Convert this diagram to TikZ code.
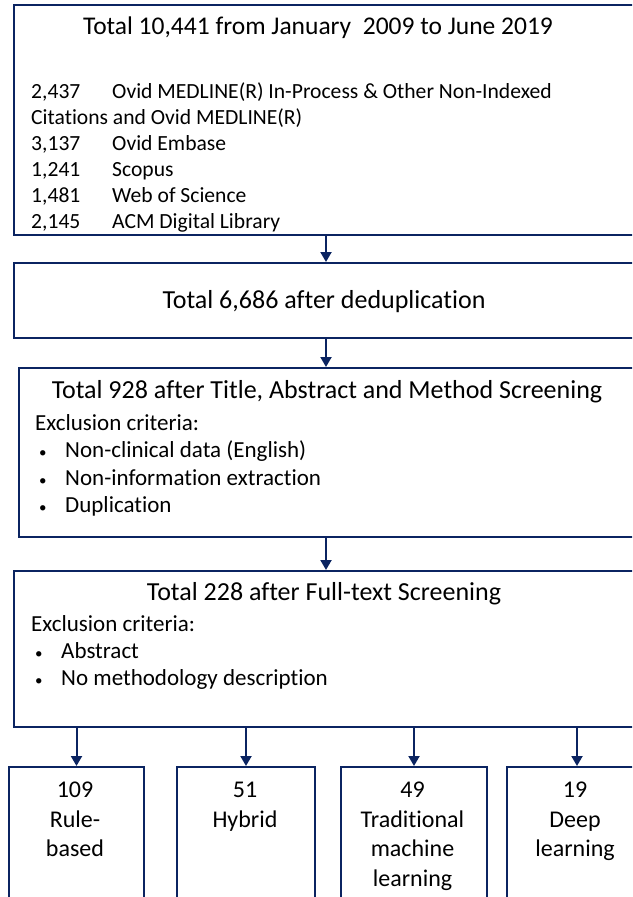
\documentclass[tikz,border=0pt]{standalone}
\usepackage{fontspec}
\setmainfont{Carlito}[Ligatures=NoCommon]
\usetikzlibrary{arrows.meta}
\definecolor{navy}{HTML}{0B2461}
\newcommand{\smallbullet}{\makebox[26pt][l]{\fontsize{15}{15}\selectfont\textbullet}}

\begin{document}
\begin{tikzpicture}[x=1pt,y=-1pt]
\useasboundingbox (0,0) rectangle (632,897);
\clip (0,0) rectangle (632,897);

\begin{scope}[every node/.style={rectangle,draw=navy,line width=2pt,inner sep=0pt}]
    \node[minimum width=686pt,minimum height=230pt] (1) at (357,120) {};
    \node[minimum width=686pt,minimum height=75pt] (2) at (357,300.5) {};
    \node[minimum width=682pt,minimum height=169pt] (3) at (360,452.5) {};
    \node[minimum width=686pt,minimum height=156pt] (4) at (357,649) {};
    \node[minimum width=135pt,minimum height=160pt] (5) at (76.5,847) {};
    \node[minimum width=138pt,minimum height=160pt] (6) at (246,847) {};
    \node[minimum width=146pt,minimum height=160pt] (7) at (414,847) {};
    \node[minimum width=180pt,minimum height=160pt] (8) at (597,847) {};
\end{scope}

\begin{scope}[every node/.style={inner sep=0pt,text=black}]
    \node[font=\fontsize{25.5}{30}\selectfont] (1title) at (318,28) {Total 10,441 from January\ \ 2009 to June 2019};
    \node[anchor=north west,align=left,font=\fontsize{21.6}{26}\selectfont] (1list) at (31,82)
        {\makebox[81pt][l]{2,437}Ovid MEDLINE(R) In-Process \& Other Non-Indexed\\
         Citations and Ovid MEDLINE(R)\\
         \makebox[81pt][l]{3,137}Ovid Embase\\
         \makebox[81pt][l]{1,241}Scopus\\
         \makebox[81pt][l]{1,481}Web of Science\\
         \makebox[81pt][l]{2,145}ACM Digital Library};
    \node[font=\fontsize{26}{30}\selectfont] (2title) at (324,302) {Total 6,686 after deduplication};
    \node[font=\fontsize{26}{30}\selectfont] (3title) at (327,392) {Total 928 after Title, Abstract and Method Screening};
    \node[anchor=north west,align=left,font=\fontsize{23}{27.5}\selectfont] (3list) at (35,414)
        {Exclusion criteria:\\
         \hspace*{4pt}\smallbullet Non-clinical data (English)\\
         \hspace*{4pt}\smallbullet Non-information extraction\\
         \hspace*{4pt}\smallbullet Duplication};
    \node[font=\fontsize{26}{30}\selectfont] (4title) at (324,594) {Total 228 after Full-text Screening};
    \node[anchor=north west,align=left,font=\fontsize{23}{27}\selectfont] (4list) at (31,615)
        {Exclusion criteria:\\
         \hspace*{4pt}\smallbullet Abstract\\
         \hspace*{4pt}\smallbullet No methodology description};
    \node[anchor=north,align=center,font=\fontsize{24}{29.5}\selectfont] (5text) at (75,782) {109\\Rule-\\based};
    \node[anchor=north,align=center,font=\fontsize{24}{29.5}\selectfont] (6text) at (245,782) {51\\Hybrid};
    \node[anchor=north,align=center,font=\fontsize{24}{29.5}\selectfont] (7text) at (412.5,782) {49\\Traditional\\machine\\learning};
    \node[anchor=north,align=center,font=\fontsize{24}{29.5}\selectfont] (8text) at (575,782) {19\\Deep\\learning};
\end{scope}

\begin{scope}[>={Triangle[length=10pt,width=11pt]},
              every edge/.style={draw=navy,line width=2pt}]
    \path [->] (1.south -| 326,0) edge (2.north -| 326,0);
    \path [->] (2.south -| 326,0) edge (3.north -| 326,0);
    \path [->] (3.south -| 326,0) edge (4.north -| 326,0);
    \path [->] (4.south -| 5) edge (5);
    \path [->] (4.south -| 6) edge (6);
    \path [->] (4.south -| 7) edge (7);
    \path [->] (4.south -| 577,0) edge (8.north -| 577,0);
\end{scope}
\end{tikzpicture}
\end{document}
